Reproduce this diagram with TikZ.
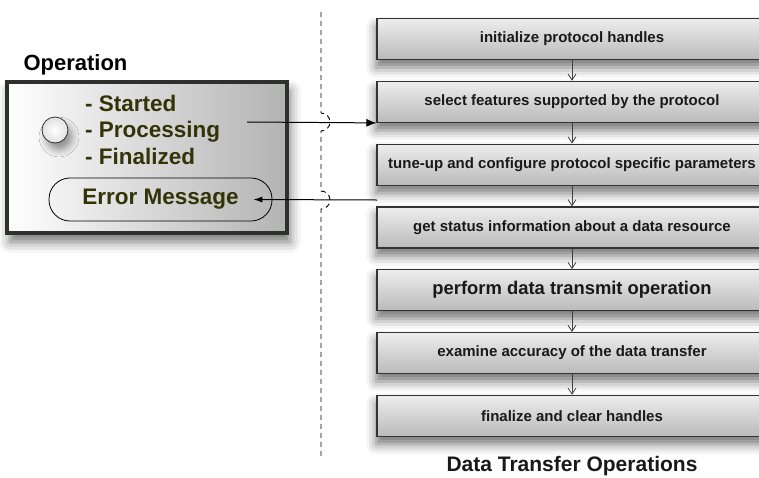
\documentclass[tikz,border=0pt]{standalone}
\usepackage{fontspec}
\setmainfont{Liberation Sans}
\usetikzlibrary{arrows.meta,shadows.blur}
\definecolor{opgreen}{RGB}{50,52,8}
\definecolor{opborder}{RGB}{45,48,45}
\begin{document}
\begin{tikzpicture}[x=1pt,y=1pt,
  flow/.style={draw=black!80, line width=1.2pt, top color=black!7, bottom color=black!27,
    minimum width=390pt, minimum height=41pt, inner sep=0pt,
    font=\fontsize{15}{18}\selectfont\bfseries, text=black!90,
    blur shadow={shadow xshift=-1pt, shadow yshift=-8pt, shadow blur radius=10pt, shadow opacity=55}},
  flowbig/.style={flow, font=\fontsize{18.4}{22}\selectfont\bfseries},
  flowarrow/.style={draw=black!75, line width=0.8pt, -{Straight Barb[length=6pt,width=8pt]}},
  optext/.style={text=opgreen, font=\fontsize{22.5}{26.5}\selectfont\bfseries},
  sep/.style={draw=black, line width=0.9pt, dash pattern=on 5pt off 4pt},
  link/.style={draw=black, line width=1pt}]
\useasboundingbox (0,0) rectangle (759,-477);

% data transfer flow
\node[flow] (b1) at (572,-39) {initialize protocol handles};
\node[flow] (b2) at (572,-101.8) {select features supported by the protocol};
\node[flow] (b3) at (572,-164.6) {tune-up and configure protocol specific parameters};
\node[flow] (b4) at (572,-227.4) {get status information about a data resource};
\node[flowbig] (b5) at (572,-290.2) {perform data transmit operation};
\node[flow] (b6) at (572,-353) {examine accuracy of the data transfer};
\node[flow] (b7) at (572,-415.8) {finalize and clear handles};
\foreach \a/\b in {b1/b2,b2/b3,b3/b4,b4/b5,b5/b6,b6/b7}
  \draw[flowarrow] (\a.south) -- (\b.north);
\node[font=\fontsize{21}{25}\selectfont\bfseries, text=black!90] (dtitle) at (572,-466) {Data Transfer Operations};

% separator with hops
\draw[sep] (321,-12) -- (321,-113) arc[start angle=90,end angle=-90,radius=9]
  -- (321,-191) arc[start angle=90,end angle=-90,radius=9] -- (321,-458);

% operation box
\node[font=\fontsize{22}{26}\selectfont\bfseries, anchor=west] (optitle) at (20,-65) {Operation};
\node[draw=opborder, line width=3.2pt, left color=white, right color=black!30,
  minimum width=280pt, minimum height=151pt, inner sep=0pt,
  blur shadow={shadow xshift=3pt, shadow yshift=-9pt, shadow blur radius=11pt, shadow opacity=55}]
  (opbox) at (147,-157.5) {};
\node[circle, draw=black!80, line width=0.8pt, minimum size=26pt, inner sep=0pt,
  inner color=white, outer color=black!12,
  blur shadow={shadow xshift=4pt, shadow yshift=-7pt, shadow blur radius=7pt, shadow opacity=40}]
  (lamp) at (55,-130) {};
\node[optext, align=left, anchor=west, inner sep=0pt] (status) at (85,-129.5)
  {- Started\\- Processing\\- Finalized};
\node[optext, draw=black, line width=0.8pt, rounded corners=21pt,
  minimum width=223pt, minimum height=43pt, inner sep=0pt] (err) at (160.5,-199.5) {Error Message};

% connectors
\coordinate (s1) at (247,-122);
\coordinate (s2) at (377,-200);
\draw[link, -{Latex[length=10pt,width=8pt]}] (s1) -- (b2.south west);
\draw[link, -{Latex[length=9pt,width=6pt]}] (s2) -- ([xshift=-19pt]err.east);
\end{tikzpicture}
\end{document}
